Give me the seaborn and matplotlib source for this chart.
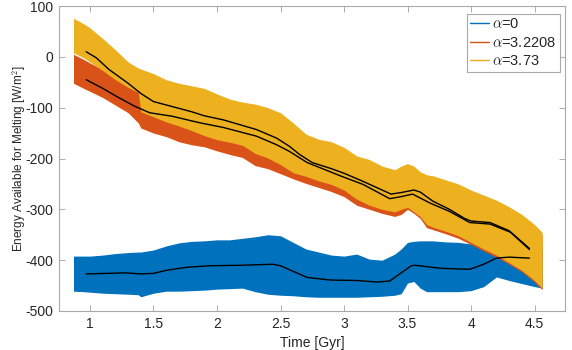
import matplotlib
matplotlib.use("Agg")
import matplotlib.pyplot as plt
from matplotlib.lines import Line2D
import seaborn as sns
import pandas as pd

# ---------------- data ----------------
band_t = [0.87, 0.95, 1.0, 1.1, 1.2, 1.3, 1.38, 1.4, 1.5, 1.6, 1.7, 1.8, 1.9, 2.0,
          2.1, 2.2, 2.3, 2.4, 2.5, 2.6, 2.7, 2.8, 2.9, 3.0, 3.1, 3.2, 3.3, 3.4,
          3.45, 3.5, 3.55, 3.6, 3.65, 3.7, 3.8, 3.9, 4.0, 4.1, 4.2, 4.3, 4.4, 4.5, 4.56]

# alpha = 3.73 (yellow)
y373_upper = [76, 65, 57, 36, 14, -10, -22, -24, -33, -45, -52, -57, -62, -73,
              -83, -89, -93, -100, -110, -130, -152, -162, -167, -178, -195, -202, -215, -222,
              -215, -210, -215, -226, -232, -234, -242, -250, -262, -272, -282, -295, -310, -330, -345]
y373_lower = [8, -2, -10, -27, -45, -60, -70, -108, -118, -128, -136, -145, -155, -163,
              -168, -174, -190, -199, -212, -228, -235, -244, -251, -262, -280, -292, -300, -305,
              -300, -296, -305, -314, -330, -335, -343, -352, -365, -378, -390, -405, -420, -440, -455]

# alpha = 3.2208 (orange)
y322_upper = [5, -5, -12, -25, -40, -55, -65, -70, -75, -80, -85, -90, -95, -100,
              -105, -112, -118, -128, -140, -155, -170, -180, -190, -200, -212, -225, -235, -240,
              -238, -235, -240, -250, -255, -260, -270, -280, -290, -295, -300, -310, -320, -340, -350]
y322_lower = [-52, -62, -68, -80, -95, -110, -130, -140, -150, -157, -167, -173, -177, -185,
              -192, -198, -214, -220, -230, -240, -249, -257, -265, -275, -292, -300, -308, -314,
              -310, -300, -308, -318, -336, -340, -348, -357, -369, -382, -394, -408, -423, -443, -458]

# alpha = 0 (blue)
y0_upper = [-392, -392, -392, -390, -387, -385, -384, -384, -380, -372, -366, -363, -362, -360,
            -360, -357, -354, -350, -352, -365, -378, -384, -390, -392, -388, -398, -400, -388,
            -378, -365, -363, -362, -362, -362, -364, -365, -368, -372, -370, -372, -375, -378, -380]
y0_lower = [-461, -462, -463, -465, -466, -467, -468, -472, -465, -461, -461, -460, -459, -457,
            -456, -455, -462, -467, -469, -470, -472, -473, -473, -473, -473, -472, -471, -469,
            -466, -445, -442, -455, -462, -462, -462, -462, -460, -452, -433, -440, -446, -452, -455]

# running means (black lines)
mean373_t = [0.97, 1.05, 1.15, 1.3, 1.4, 1.5, 1.65, 1.8, 1.9, 2.05, 2.2, 2.31, 2.47, 2.57,
             2.65, 2.75, 2.9, 3.0, 3.15, 3.3, 3.37, 3.45, 3.55, 3.6, 3.7, 3.83, 3.95, 4.0,
             4.15, 4.3, 4.46]
mean373 = [10, -2, -25, -52, -72, -88, -98, -108, -116, -124, -135, -143, -160, -176,
           -192, -208, -220, -229, -245, -262, -270, -267, -262, -266, -284, -300, -318, -323,
           -326, -342, -377]

mean322_t = [0.97, 1.1, 1.21, 1.35, 1.47, 1.65, 1.8, 1.87, 2.05, 2.31, 2.47, 2.57, 2.71,
             2.97, 3.15, 3.36, 3.45, 3.54, 3.68, 3.83, 3.99, 4.15, 4.31, 4.46]
mean322 = [-45, -62, -78, -97, -110, -117, -126, -130, -139, -156, -173, -186, -208,
           -234, -251, -279, -275, -270, -288, -304, -326, -329, -345, -379]

mean0_t = [0.97, 1.29, 1.39, 1.5, 1.6, 1.76, 1.94, 2.2, 2.44, 2.5, 2.6, 2.71, 2.89, 3.1,
           3.26, 3.36, 3.45, 3.53, 3.56, 3.76, 3.99, 4.1, 4.2, 4.3, 4.46]
mean0 = [-427, -425, -427, -426, -420, -414, -411, -410, -408, -411, -422, -434, -439, -440,
         -443, -441, -425, -411, -410, -416, -418, -408, -396, -394, -396]

labels = [r"$\alpha$=0", r"$\alpha$=3.2208", r"$\alpha$=3.73"]
colors = ["#0072BD", "#D95319", "#EDB120"]

x_ticks = [1, 1.5, 2, 2.5, 3, 3.5, 4, 4.5]
x_ticklabels = ["1", "1.5", "2", "2.5", "3", "3.5", "4", "4.5"]
y_ticks = [-500, -400, -300, -200, -100, 0, 100]

# ---------------- plot ----------------
sns.set_theme(style="white")
plt.rcParams["font.family"] = ["Liberation Sans", "DejaVu Sans"]
plt.rcParams["mathtext.fontset"] = "cm"
plt.rcParams["axes.unicode_minus"] = False

fig = plt.figure(figsize=(5.72, 3.5), dpi=100)
ax = fig.add_axes([59 / 572, 1 - 311 / 350, (565 - 59) / 572, (311 - 6) / 350])

ax.fill_between(band_t, y0_lower, y0_upper, color=colors[0], linewidth=0)
ax.fill_between(band_t, y322_lower, y322_upper, color=colors[1], linewidth=0)
ax.fill_between(band_t, y373_lower, y373_upper, color=colors[2], linewidth=0)

df_means = pd.concat([
    pd.DataFrame({"t": mean0_t, "v": mean0, "s": "0"}),
    pd.DataFrame({"t": mean322_t, "v": mean322, "s": "3.2208"}),
    pd.DataFrame({"t": mean373_t, "v": mean373, "s": "3.73"}),
])
sns.lineplot(data=df_means, x="t", y="v", units="s", estimator=None, color="black",
             linewidth=1.0, sort=False, ax=ax, legend=False)

ax.set_xlim(0.756, 4.74)
ax.set_ylim(-500, 100)
ax.set_xticks(x_ticks)
ax.set_xticklabels(x_ticklabels)
ax.set_yticks(y_ticks)
ax.set_xlabel("Time [Gyr]", fontsize=10, color="#262626")
ax.set_ylabel("Energy Available for Melting [W/m$^2$]", fontsize=8.5, color="#262626")
ax.xaxis.set_label_coords(0.5, -0.083)
ax.yaxis.set_label_coords(-0.062, 0.5)

ax.tick_params(direction="in", length=4, width=0.6, colors="#a0a0a0",
               labelcolor="#262626", labelsize=10, top=True, right=True,
               bottom=True, left=True, pad=4)
for sp in ax.spines.values():
    sp.set_color("#a8a8a8")
    sp.set_linewidth(0.8)

handles = [Line2D([0], [0], color=c, lw=1.0) for c in colors]
leg = ax.legend(handles, labels, loc="upper right", fontsize=10.5, frameon=True,
                fancybox=False, edgecolor="#a8a8a8", framealpha=1,
                bbox_to_anchor=(0.99, 0.975),
                borderaxespad=0.0, handlelength=1.3, handletextpad=0.2,
                labelspacing=0.3, borderpad=0.25)
leg.get_frame().set_linewidth(0.8)

fig.savefig("out.png", dpi=100)
